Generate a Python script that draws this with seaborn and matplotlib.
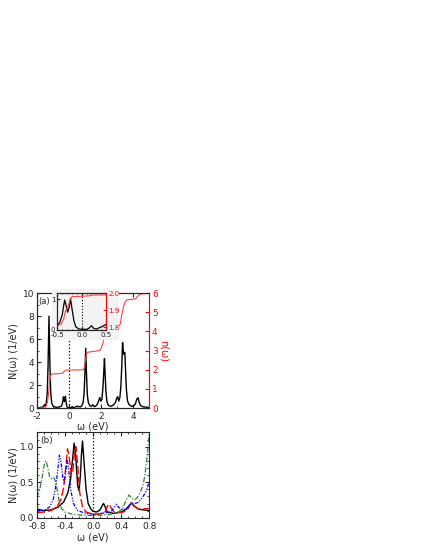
import matplotlib
matplotlib.use("Agg")
import matplotlib.pyplot as plt
from matplotlib.ticker import MultipleLocator, FormatStrFormatter
from matplotlib.patches import Rectangle
import seaborn as sns

# ---- panel (a): total DOS N(w) ----
omega_a = [-2.0, -1.8, -1.6, -1.53, -1.48, -1.42, -1.36, -1.31,
           -1.25, -1.19, -1.14, -1.08, -1.0, -0.85, -0.7, -0.6,
           -0.5, -0.45, -0.4, -0.37, -0.35, -0.32, -0.29, -0.26,
           -0.23, -0.2, -0.16, -0.12, -0.05, 0.1, 0.15, 0.2,
           0.25, 0.3, 0.4, 0.5, 0.55, 0.6, 0.7, 0.8,
           0.88, 0.94, 0.99, 1.04, 1.09, 1.14, 1.2, 1.3,
           1.4, 1.48, 1.55, 1.65, 1.75, 1.85, 1.92, 1.98,
           2.05, 2.12, 2.17, 2.21, 2.25, 2.3, 2.36, 2.45,
           2.6, 2.75, 2.9, 2.97, 3.03, 3.1, 3.17, 3.23,
           3.29, 3.34, 3.4, 3.44, 3.48, 3.53, 3.58, 3.65,
           3.75, 3.9, 4.05, 4.15, 4.22, 4.27, 4.31, 4.36,
           4.45, 4.6, 4.8, 5.0]
dos_a = [0.02, 0.05, 0.12, 0.30, 0.20, 0.45, 1.30, 3.60,
         8.00, 3.60, 1.30, 0.45, 0.18, 0.08, 0.08, 0.10,
         0.15, 0.25, 0.50, 0.80, 0.98, 0.80, 0.58, 0.72,
         1.03, 0.70, 0.30, 0.10, 0.03, 0.02, 0.06, 0.14,
         0.05, 0.03, 0.10, 0.18, 0.10, 0.15, 0.10, 0.20,
         0.50, 1.30, 3.00, 5.20, 3.00, 1.20, 0.50, 0.20,
         0.15, 0.30, 0.15, 0.15, 0.30, 0.65, 0.92, 0.60,
         0.75, 1.90, 3.20, 4.30, 3.00, 1.50, 0.60, 0.25,
         0.15, 0.25, 0.50, 0.85, 1.00, 0.60, 0.90, 1.80,
         3.60, 5.70, 4.70, 4.80, 4.85, 3.20, 1.60, 0.60,
         0.30, 0.15, 0.20, 0.40, 0.75, 0.85, 0.90, 0.55,
         0.25, 0.12, 0.08, 0.05]

# occupation n(w)
omega_n = [-2.0, -1.5, -1.42, -1.35, -1.3, -1.25, -1.2, -1.15,
           -1.05, -0.6, -0.5, -0.42, -0.37, -0.33, -0.28, -0.24,
           -0.2, 0.15, 0.22, 0.5, 0.9, 0.98, 1.04, 1.1,
           1.2, 1.9, 2.0, 2.12, 2.21, 2.3, 2.9, 3.05,
           3.2, 3.3, 3.4, 3.5, 3.6, 4.15, 4.3, 4.45,
           5.0]
occ_n = [0.0, 0.02, 0.1, 0.3, 0.6, 1.0, 1.45, 1.7,
         1.78, 1.80, 1.81, 1.82, 1.85, 1.90, 1.92, 1.96,
         1.98, 1.985, 1.99, 1.99, 2.0, 2.2, 2.6, 2.85,
         2.92, 3.0, 3.1, 3.4, 3.8, 4.0, 4.05, 4.2,
         4.4, 4.9, 5.3, 5.55, 5.65, 5.7, 5.85, 5.95,
         6.0]

# ---- panel (b): four DOS curves near the Fermi level ----
omega_black = [-0.8, -0.7, -0.6, -0.5, -0.42, -0.36, -0.32, -0.29,
               -0.27, -0.25, -0.22, -0.2, -0.18, -0.165, -0.15, -0.13,
               -0.1, -0.07, -0.03, 0.0, 0.05, 0.1, 0.13, 0.15,
               0.17, 0.2, 0.3, 0.4, 0.47, 0.52, 0.55, 0.58,
               0.65, 0.8]
dos_black = [0.12, 0.10, 0.11, 0.15, 0.22, 0.35, 0.55, 0.85,
             1.05, 0.90, 0.45, 0.38, 0.60, 0.90, 1.08, 0.80,
             0.40, 0.20, 0.12, 0.09, 0.08, 0.11, 0.17, 0.20,
             0.16, 0.08, 0.06, 0.08, 0.12, 0.18, 0.21, 0.17,
             0.12, 0.10]

omega_red = [-0.8, -0.7, -0.6, -0.52, -0.46, -0.42, -0.39, -0.365,
             -0.34, -0.31, -0.29, -0.265, -0.245, -0.22, -0.19, -0.15,
             -0.1, 0.0, 0.1, 0.17, 0.21, 0.23, 0.25, 0.3,
             0.4, 0.48, 0.52, 0.545, 0.57, 0.65, 0.8]
dos_red = [0.07, 0.08, 0.10, 0.15, 0.25, 0.42, 0.70, 0.97,
           0.85, 0.60, 0.65, 0.90, 1.00, 0.75, 0.35, 0.15,
           0.08, 0.05, 0.05, 0.08, 0.17, 0.19, 0.15, 0.08,
           0.07, 0.10, 0.17, 0.21, 0.17, 0.12, 0.13]

omega_blue = [-0.8, -0.7, -0.62, -0.57, -0.53, -0.5, -0.48, -0.46,
              -0.43, -0.41, -0.39, -0.37, -0.35, -0.32, -0.28, -0.22,
              -0.1, 0.0, 0.1, 0.2, 0.27, 0.31, 0.335, 0.36,
              0.42, 0.5, 0.55, 0.6, 0.65, 0.7, 0.75, 0.8]
dos_blue = [0.10, 0.10, 0.15, 0.25, 0.45, 0.70, 0.88, 0.80,
            0.55, 0.50, 0.65, 0.82, 0.70, 0.40, 0.20, 0.10,
            0.06, 0.05, 0.06, 0.07, 0.10, 0.16, 0.19, 0.15,
            0.11, 0.14, 0.20, 0.20, 0.22, 0.28, 0.36, 0.50]

omega_green = [-0.8, -0.76, -0.72, -0.69, -0.67, -0.65, -0.62, -0.59,
               -0.56, -0.54, -0.51, -0.48, -0.45, -0.4, -0.3, -0.2,
               0.0, 0.2, 0.35, 0.42, 0.47, 0.51, 0.54, 0.58,
               0.62, 0.67, 0.71, 0.74, 0.77, 0.8]
dos_green = [0.28, 0.40, 0.60, 0.78, 0.80, 0.72, 0.58, 0.55,
             0.57, 0.52, 0.38, 0.22, 0.13, 0.08, 0.05, 0.04,
             0.03, 0.04, 0.07, 0.13, 0.24, 0.32, 0.29, 0.25,
             0.27, 0.35, 0.45, 0.60, 0.85, 1.20]

sns.set_style("ticks")
plt.rcParams.update({
    "font.family": ["DejaVu Sans"],
    "font.size": 6.5,
    "axes.unicode_minus": False,
    "axes.linewidth": 0.8,
    "xtick.direction": "in",
    "ytick.direction": "in",
    "xtick.top": True,
    "ytick.right": True,
    "xtick.major.size": 3,
    "ytick.major.size": 3,
    "xtick.minor.size": 1.5,
    "ytick.minor.size": 1.5,
    "xtick.major.pad": 2.5,
    "ytick.major.pad": 2,
})

RED = "#ff0000"
fig = plt.figure(figsize=(4.25, 5.5), dpi=100)

# --- panel (a) ---
ax_a = fig.add_axes([0.087, 0.258, 0.264, 0.209])
sns.lineplot(x=omega_a, y=dos_a, ax=ax_a, color="black", lw=1.0)
ax_a.axvline(0, color="black", ls=":", lw=0.9)
ax_a.set_xlim(-2, 5)
ax_a.set_ylim(0, 10)
ax_a.xaxis.set_major_locator(MultipleLocator(2))
ax_a.xaxis.set_minor_locator(MultipleLocator(1))
ax_a.yaxis.set_major_locator(MultipleLocator(2))
ax_a.yaxis.set_minor_locator(MultipleLocator(1))
ax_a.tick_params(axis="y", which="both", right=False)
ax_a.set_xlabel("ω (eV)", fontsize=7)
ax_a.set_ylabel("N(ω) (1/eV)", fontsize=7)
ax_a.xaxis.set_label_coords(0.5, -0.12)
ax_a.yaxis.set_label_coords(-0.165, 0.5)
ax_a.text(0.015, 0.93, "(a)", transform=ax_a.transAxes, ha="left", va="center",
          fontsize=6)

ax_n = ax_a.twinx()
sns.lineplot(x=omega_n, y=occ_n, ax=ax_n, color="#ff4040", lw=0.8)
ax_n.set_ylim(0, 6)
ax_n.yaxis.set_major_locator(MultipleLocator(1))
ax_n.tick_params(axis="y", colors=RED)
ax_n.spines["right"].set_color(RED)
ax_n.set_ylabel("n(ω)", color=RED, rotation=270, fontsize=7)
ax_n.yaxis.label.set_va("center")
ax_n.yaxis.set_label_coords(1.13, 0.5)

# light box behind the inset
fig.add_artist(Rectangle((0.122, 0.382), 0.158, 0.093, transform=fig.transFigure,
                         facecolor="#f3f3f3", edgecolor="none", zorder=1))

# --- inset ---
ax_in = fig.add_axes([0.135, 0.400, 0.1145, 0.0667])
ax_in.set_zorder(3)
ax_in.set_facecolor("#f3f3f3")
sns.lineplot(x=omega_a, y=dos_a, ax=ax_in, color="black", lw=0.9)
ax_in.axvline(0, color="black", ls=":", lw=0.8)
ax_in.set_xlim(-0.5, 0.5)
ax_in.set_ylim(0, 1.2)
ax_in.set_xticks([-0.5, 0.0, 0.5])
ax_in.xaxis.set_major_formatter(FormatStrFormatter("%.1f"))
ax_in.xaxis.set_minor_locator(MultipleLocator(0.1))
ax_in.set_yticks([0, 1])
ax_in.tick_params(labelsize=5, length=2, pad=1.5)
ax_in.tick_params(which="minor", length=1)
ax_in.tick_params(axis="y", which="both", right=False)
ax_in.set_xlabel("")
ax_in.set_ylabel("")

ax_in_r = ax_in.twinx()
ax_in_r.set_zorder(4)
sns.lineplot(x=omega_n, y=occ_n, ax=ax_in_r, color="#ff4040", lw=0.8)
ax_in_r.set_ylim(1.785, 2.0)
ax_in_r.set_yticks([1.8, 1.9, 2.0])
ax_in_r.yaxis.set_major_formatter(FormatStrFormatter("%.1f"))
ax_in_r.tick_params(axis="y", colors=RED, labelsize=5, length=2, pad=1.5)
ax_in_r.spines["right"].set_color(RED)
ax_in_r.set_ylabel("")

# --- panel (b) ---
ax_b = fig.add_axes([0.087, 0.0587, 0.264, 0.155])
sns.lineplot(x=omega_black, y=dos_black, ax=ax_b, color="black", lw=1.0)
sns.lineplot(x=omega_red, y=dos_red, ax=ax_b, color=RED, lw=1.0,
             linestyle=(0, (6, 2)))
sns.lineplot(x=omega_blue, y=dos_blue, ax=ax_b, color="#0000ff", lw=0.9,
             linestyle=(0, (3, 1.2, 1, 1.2, 1, 1.2)))
sns.lineplot(x=omega_green, y=dos_green, ax=ax_b, color="#2f7f2f", lw=0.9,
             linestyle=(0, (4, 1.5, 1, 1.5)))
ax_b.axvline(0, color="black", ls=":", lw=0.9)
ax_b.set_xlim(-0.8, 0.8)
ax_b.set_ylim(0, 1.2)
ax_b.xaxis.set_major_locator(MultipleLocator(0.4))
ax_b.xaxis.set_minor_locator(MultipleLocator(0.1))
ax_b.yaxis.set_major_locator(MultipleLocator(0.5))
ax_b.yaxis.set_minor_locator(MultipleLocator(0.1))
ax_b.xaxis.set_major_formatter(FormatStrFormatter("%.1f"))
ax_b.yaxis.set_major_formatter(FormatStrFormatter("%.1f"))
ax_b.tick_params(axis="x", pad=3)
ax_b.set_xlabel("ω (eV)", fontsize=7)
ax_b.set_ylabel("N(ω) (1/eV)", fontsize=7)
ax_b.xaxis.set_label_coords(0.5, -0.175)
ax_b.yaxis.set_label_coords(-0.165, 0.5)
ax_b.text(0.03, 0.9, "(b)", transform=ax_b.transAxes, ha="left", va="center")

fig.savefig("out.png", dpi=100)
